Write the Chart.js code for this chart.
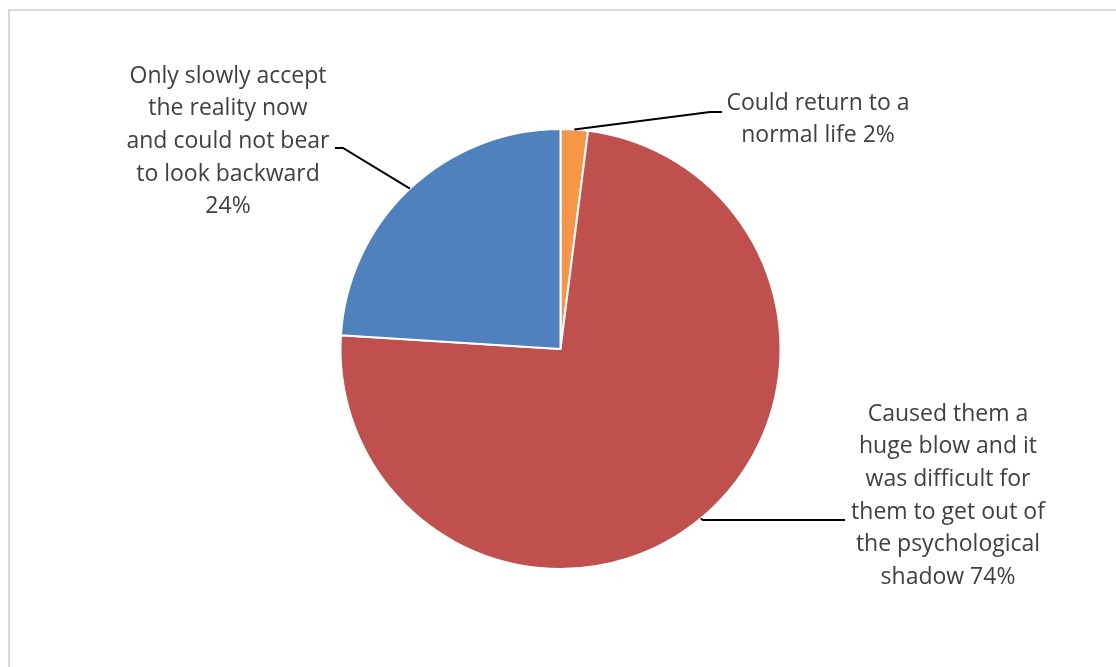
<!DOCTYPE html>
<html>
<head>
<meta charset="utf-8">
<script src="https://cdn.jsdelivr.net/npm/chart.js@4/dist/chart.umd.min.js"></script>
<style>
  html, body { margin: 0; padding: 0; background: #fff; overflow: hidden; }
  #frame { position: absolute; left: 8px; top: 9px; width: 1300px; height: 900px;
           border: 2px solid #d9d9d9; box-sizing: border-box; }
  #graph-area { position: absolute; left: 0; top: 0; }
</style>
</head>
<body>
<div id="frame"></div>
<canvas id="graph-area" width="1116" height="667"></canvas>
<script>
// data
var categories = [
  "Could return to a normal life",
  "Caused them a huge blow and it was difficult for them to get out of the psychological shadow",
  "Only slowly accept the reality now and could not bear to look backward"
];
var values = [2, 74, 24];
var colors = ["#F79646", "#C0504D", "#4F81BD"];
// label lines as wrapped in the picture
var labelLines = [
  ["Could return to a", "normal life 2%"],
  ["Caused them a", "huge blow and it", "was difficult for", "them to get out of", "the psychological", "shadow 74%"],
  ["Only slowly accept", "the reality now", "and could not bear", "to look backward", "24%"]
];

window.addEventListener("DOMContentLoaded", function () {
  // label placement (text centre x, first line y, leader elbow)
  var labelPos = [
    { x: 818, y: 103, elbow: [[710, 112], [722, 112]] },
    { x: 948, y: 414, elbow: [[703, 520], [845, 520]] },
    { x: 228, y: 76,  elbow: [[343, 148], [335, 148]] }
  ];

  var labelPlugin = {
    id: "pieLabels",
    afterDraw: function (chart) {
      var ctx = chart.ctx;
      var arcs = chart.getDatasetMeta(0).data;
      ctx.save();
      // leader lines
      ctx.strokeStyle = "#000";
      ctx.lineWidth = 2;
      arcs.forEach(function (arc, i) {
        var p = arc.getProps(["x", "y", "startAngle", "endAngle", "outerRadius"], true);
        var mid = (p.startAngle + p.endAngle) / 2;
        var ax = p.x + Math.cos(mid) * p.outerRadius;
        var ay = p.y + Math.sin(mid) * p.outerRadius;
        ctx.beginPath();
        ctx.moveTo(ax, ay);
        labelPos[i].elbow.forEach(function (pt) { ctx.lineTo(pt[0], pt[1]); });
        ctx.stroke();
      });
      // text
      ctx.fillStyle = "#404040";
      ctx.font = "23px 'Open Sans'";
      ctx.textAlign = "center";
      ctx.textBaseline = "middle";
      labelLines.forEach(function (lines, i) {
        lines.forEach(function (t, k) {
          ctx.fillText(t, labelPos[i].x, labelPos[i].y + k * 32.7);
        });
      });
      ctx.restore();
    }
  };

  var canvas = document.getElementById("graph-area");
  var chart = new Chart(canvas, {
    type: "pie",
    data: {
      labels: categories,
      datasets: [{
        data: values,
        backgroundColor: colors,
        borderColor: "#ffffff",
        borderWidth: 2
      }]
    },
    options: {
      responsive: false,
      animation: false,
      layout: { padding: { left: 5, right: 0, top: 128, bottom: 97 } },
      plugins: {
        legend: { display: false },
        tooltip: { enabled: false },
        title: { display: false }
      }
    },
    plugins: [labelPlugin]
  });
});
</script>
</body>
</html>
